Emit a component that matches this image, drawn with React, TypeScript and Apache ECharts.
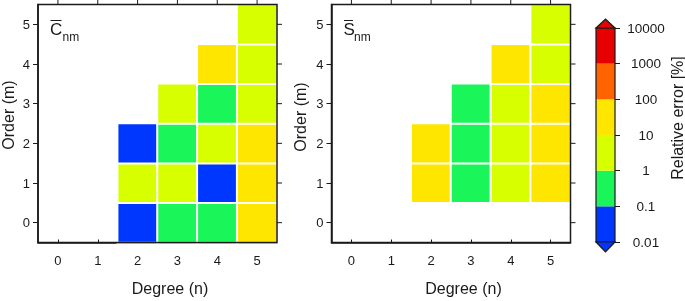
import React, { useEffect, useRef } from "react";
import * as echarts from "echarts";

const degrees = ["0", "1", "2", "3", "4", "5"];
const orders = ["0", "1", "2", "3", "4", "5"];

// [degree n, order m, relative error %]
const cnmErrors: [number, number, number][] = [
  [2, 0, 0.05], [2, 1, 3], [2, 2, 0.05],
  [3, 0, 0.5], [3, 1, 3], [3, 2, 0.5], [3, 3, 3],
  [4, 0, 0.5], [4, 1, 0.05], [4, 2, 3], [4, 3, 0.5], [4, 4, 30],
  [5, 0, 30], [5, 1, 30], [5, 2, 30], [5, 3, 3], [5, 4, 3], [5, 5, 3],
];
const snmErrors: [number, number, number][] = [
  [2, 1, 30], [2, 2, 30],
  [3, 1, 0.5], [3, 2, 0.5], [3, 3, 0.5],
  [4, 1, 3], [4, 2, 3], [4, 3, 3], [4, 4, 30],
  [5, 1, 30], [5, 2, 30], [5, 3, 30], [5, 4, 3], [5, 5, 3],
];

const bandEdges = [0.01, 0.1, 1, 10, 100, 1000, 10000];
const bandLabels = ["0.01", "0.1", "1", "10", "100", "1000", "10000"];
const bandColors = ["#0037ff", "#1af55a", "#d7ff00", "#ffe600", "#ff6400", "#e60000"];

const FONT = "'Liberation Sans', Arial, Helvetica, sans-serif";
const INK = "#1a1a1a";

export default function App() {
  const ref = useRef<HTMLDivElement>(null);
  useEffect(() => {
    if (!ref.current) return;
    const chart = echarts.init(ref.current, undefined, { renderer: "svg" });
    const grids = [
      { left: 38, top: 4.5, width: 239, height: 238 },
      { left: 331.5, top: 4.5, width: 239, height: 238 },
    ];
    const line = { show: true, onZero: false, lineStyle: { color: INK, width: 1.5 } };
    const xAxes: any[] = [];
    const yAxes: any[] = [];
    grids.forEach((_, gi) => {
      xAxes.push({
        type: "category", gridIndex: gi, data: degrees, position: "bottom",
        axisLine: line,
        axisTick: { show: true, inside: true, length: 3, alignWithLabel: true, lineStyle: { color: INK, width: 1 } },
        axisLabel: { fontSize: 13, color: INK, fontFamily: FONT, margin: 11 },
        splitLine: { show: false },
      });
      yAxes.push({
        type: "category", gridIndex: gi, data: orders, position: "left",
        axisLine: line,
        axisTick: { show: true, inside: false, length: 5, alignWithLabel: true, lineStyle: { color: INK, width: 1 } },
        axisLabel: { fontSize: 13, color: INK, fontFamily: FONT, margin: 8 },
        splitLine: { show: false },
      });
    });
    // colorbar grid
    xAxes.push({ type: "category", gridIndex: 2, data: ["bar"], show: false });
    yAxes.push({
      type: "value", gridIndex: 2, min: 0, max: 6, interval: 1, position: "right",
      axisLine: { show: false },
      axisTick: { show: true, inside: false, length: 5, lineStyle: { color: INK, width: 1 } },
      axisLabel: {
        fontSize: 13.5, color: INK, fontFamily: FONT, margin: 31, align: "center",
        formatter: (v: number) => bandLabels[Math.round(v)] ?? "",
      },
      splitLine: { show: false },
    });

    const barSeries = bandColors.map((c, i) => ({
      type: "bar", xAxisIndex: 2, yAxisIndex: 2, stack: "cb",
      barWidth: "100%", data: [Math.log10(bandEdges[i + 1]) - Math.log10(bandEdges[i])],
      itemStyle: { color: c }, silent: true,
    }));

    const heatItem = { borderColor: "#ffffff", borderWidth: 2 };
    const titleText = (x: number, letter: string) => {
      const w = letter === "C" ? 12 : 10;
      return [
        { type: "text", left: x, top: 20.5, z: 50, style: { text: letter, font: `17px ${FONT}`, fill: INK } },
        { type: "text", left: x + w + 0.5, top: 31, z: 50, style: { text: "nm", font: `12px ${FONT}`, fill: INK } },
        { type: "line", z: 50, shape: { x1: x + 0.5, y1: 20.5, x2: x + w - 0.5, y2: 20.5 }, style: { stroke: INK, lineWidth: 1 } },
      ];
    };
    const nameText = (text: string, x: number, y: number, rot: number) => ({
      type: "text", x, y, rotation: rot,
      style: { text, font: `16px ${FONT}`, fill: INK, align: "center", verticalAlign: "middle" },
    });

    const baseGraphic: any[] = [
      ...titleText(50, "C"),
      ...titleText(343.5, "S"),
      nameText("Order (m)", 8, 115, Math.PI / 2),
      nameText("Order (m)", 300, 117, Math.PI / 2),
      nameText("Degree (n)", 170, 288, 0),
      nameText("Degree (n)", 463.5, 288, 0),
      nameText("Relative error [%]", 677, 118, Math.PI / 2),
      { type: "rect", shape: { x: 596, y: 28, width: 19, height: 214 }, style: { fill: "none", stroke: INK, lineWidth: 1.2 }, z: 100 },
      { type: "polygon", shape: { points: [[596, 28], [615, 28], [605.5, 19]] }, style: { fill: bandColors[5], stroke: INK, lineWidth: 1.2 }, z: 100 },
      { type: "polygon", shape: { points: [[596, 242], [615, 242], [605.5, 252]] }, style: { fill: bandColors[0], stroke: INK, lineWidth: 1.2 }, z: 100 },
    ];

    chart.setOption({
      animation: false,
      grid: [
        { ...grids[0] },
        { ...grids[1] },
        { left: 596, top: 28, width: 19, height: 214 },
      ],
      xAxis: xAxes,
      yAxis: yAxes,
      visualMap: {
        type: "piecewise", show: false, seriesIndex: [0, 1], dimension: 2,
        pieces: bandColors.map((c, i) => ({ gt: bandEdges[i], lte: bandEdges[i + 1], color: c })),
      },
      series: [
        { type: "heatmap", xAxisIndex: 0, yAxisIndex: 0, data: cnmErrors, itemStyle: heatItem, emphasis: { disabled: true } },
        { type: "heatmap", xAxisIndex: 1, yAxisIndex: 1, data: snmErrors, itemStyle: heatItem, emphasis: { disabled: true } },
        ...barSeries,
      ],
      graphic: baseGraphic,
    });

    // frame (top and right edges with outward ticks), placed through the axes' own scales
    const frameGraphic: any[] = [];
    grids.forEach((g, gi) => {
      const top = g.top;
      const right = g.left + g.width;
      frameGraphic.push({ type: "rect", z: 60, shape: { x: g.left, y: g.top, width: g.width, height: g.height }, style: { fill: "none", stroke: INK, lineWidth: 1.5 } });
      degrees.forEach((d) => {
        const px = chart.convertToPixel({ xAxisIndex: gi } as any, d) as unknown as number;
        if (typeof px === "number" && isFinite(px)) {
          frameGraphic.push({ type: "line", z: 60, shape: { x1: px, y1: top - 4.5, x2: px, y2: top }, style: { stroke: INK, lineWidth: 1 } });
        }
      });
      orders.forEach((o) => {
        const py = chart.convertToPixel({ yAxisIndex: gi } as any, o) as unknown as number;
        if (typeof py === "number" && isFinite(py)) {
          frameGraphic.push({ type: "line", z: 60, shape: { x1: right, y1: py, x2: right + 5, y2: py }, style: { stroke: INK, lineWidth: 1 } });
        }
      });
    });
    chart.setOption({ graphic: [...baseGraphic, ...frameGraphic] });

    return () => chart.dispose();
  }, []);
  return <div ref={ref} style={{ position: "fixed", left: 0, top: 0, width: 685, height: 301 }} />;
}
